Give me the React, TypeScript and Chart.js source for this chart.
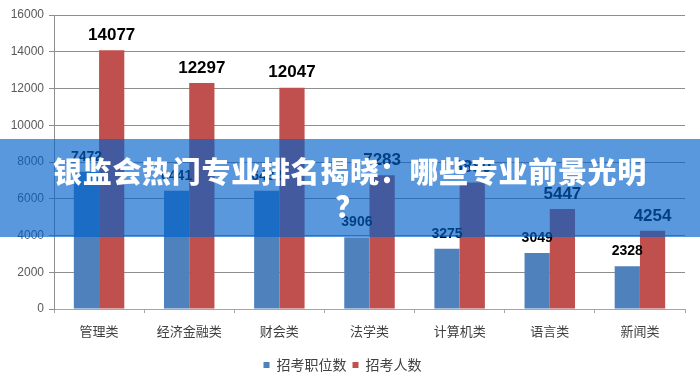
import React, { useEffect, useRef } from "react";
import { Chart, registerables } from "chart.js";

Chart.register(...registerables);

const categories = ["管理类", "经济金融类", "财会类", "法学类", "计算机类", "语言类", "新闻类"];
const positionCounts = [7472, 6441, 6432, 3906, 3275, 3049, 2328];
const applicantCounts = [14077, 12297, 12047, 7283, 6880, 5447, 4254];
const seriesNames = ["招考职位数", "招考人数"];
const seriesColors = ["#4f81bd", "#c0504d"];
const yMin = 0;
const yMax = 16000;
const yStep = 2000;
const bannerLines = ["银监会热门专业排名揭晓：哪些专业前景光明", "？"];

const labelPlugin = {
  id: "barValueLabels",
  afterDatasetsDraw(chart: any) {
    const ctx = chart.ctx;
    chart.data.datasets.forEach((ds: any, i: number) => {
      const meta = chart.getDatasetMeta(i);
      ctx.save();
      ctx.font = `bold ${i === 0 ? 14 : 17}px "Liberation Sans", Arial, sans-serif`;
      ctx.fillStyle = "#000000";
      ctx.textAlign = "center";
      ctx.textBaseline = "middle";
      meta.data.forEach((el: any, j: number) => {
        ctx.fillText(String(ds.data[j]), el.x, el.y - 15);
      });
      ctx.restore();
    });
  },
};

export default function App() {
  const canvasRef = useRef<HTMLCanvasElement | null>(null);

  useEffect(() => {
    if (!canvasRef.current) return;
    Chart.defaults.font.family = '"Noto Sans CJK SC", "Liberation Sans", sans-serif';
    const chart = new Chart(canvasRef.current, {
      type: "bar",
      data: {
        labels: categories,
        datasets: [
          {
            label: seriesNames[0],
            data: positionCounts,
            backgroundColor: seriesColors[0],
            borderWidth: 0,
            categoryPercentage: 0.56,
            barPercentage: 1,
          },
          {
            label: seriesNames[1],
            data: applicantCounts,
            backgroundColor: seriesColors[1],
            borderWidth: 0,
            categoryPercentage: 0.56,
            barPercentage: 1,
          },
        ],
      },
      options: {
        responsive: false,
        animation: false,
        layout: { padding: { left: 0, right: 15, top: 15, bottom: -4 } },
        plugins: {
          title: { display: false },
          tooltip: { enabled: false },
          legend: {
            display: true,
            position: "bottom",
            labels: {
              boxWidth: 6,
              boxHeight: 6,
              padding: 6,
              color: "#404040",
              font: { size: 14, family: '"Noto Sans CJK SC", sans-serif' },
            },
          },
        },
        scales: {
          x: {
            grid: {
              display: true,
              drawOnChartArea: false,
              drawTicks: true,
              tickLength: 4,
              color: "#a6a6a6",
              offset: true,
            },
            border: { display: true, color: "#a6a6a6" },
            ticks: {
              color: "#404040",
              padding: 10,
              font: { size: 13, family: '"Noto Sans CJK SC", sans-serif' },
              maxRotation: 0,
            },
            afterFit: (s: any) => {
              s.height = 43;
            },
          },
          y: {
            min: yMin,
            max: yMax,
            ticks: {
              stepSize: yStep,
              color: "#595959",
              padding: 5,
              font: { size: 12, family: '"Liberation Sans", Arial, sans-serif' },
              callback: (v: any) => String(v),
            },
            grid: { color: "#8e8e8e", tickLength: 5, lineWidth: 1 },
            border: { display: true, color: "#8e8e8e" },
            afterFit: (s: any) => {
              s.width = 54;
            },
          },
        },
      },
      plugins: [labelPlugin],
    });
    return () => chart.destroy();
  }, []);

  return (
    <div
      style={{
        position: "fixed",
        left: 0,
        top: 0,
        width: 700,
        height: 378,
        background: "#ffffff",
        overflow: "hidden",
      }}
    >
      <canvas
        ref={canvasRef}
        width={700}
        height={378}
        style={{ position: "absolute", left: 0, top: 0, width: 700, height: 378 }}
      />
      <div
        style={{
          position: "absolute",
          left: 0,
          top: 139,
          width: 700,
          height: 98,
          background: "rgba(0, 97, 201, 0.65)",
          display: "flex",
          flexDirection: "column",
          justifyContent: "center",
          alignItems: "center",
          color: "#ffffff",
          fontFamily: '"Noto Sans CJK SC", sans-serif',
          fontWeight: 900,
          fontSize: 29,
          lineHeight: "35px",
          letterSpacing: "0.7px",
          textAlign: "center",
        }}
      >
        {bannerLines.map((line, i) => (
          <div key={i}>{line}</div>
        ))}
      </div>
    </div>
  );
}
